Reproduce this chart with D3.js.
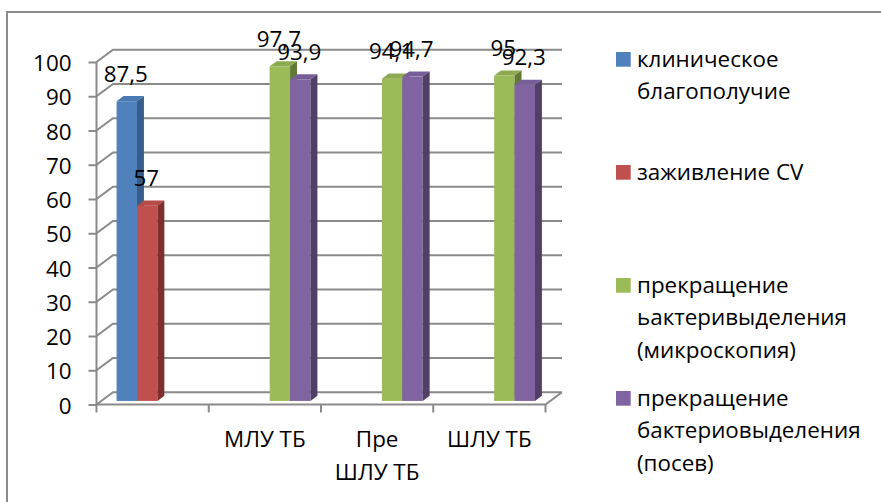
<!DOCTYPE html>
<html>
<head>
<meta charset="utf-8">
<script src="https://cdn.jsdelivr.net/npm/d3@7"></script>
<style>
  html, body { margin: 0; padding: 0; background: #fff; }
  svg { display: block; }
  text { font-family: "Open Sans", "Noto Sans", sans-serif; fill: #000; }
</style>
</head>
<body>
<svg id="chart" width="881" height="502"></svg>
<script>
// Categories along the floor of the 3-D clustered column chart
const categories = ["", "МЛУ ТБ", "Пре ШЛУ ТБ", "ШЛУ ТБ"];

// Series names (legend entries)
const seriesNames = [
  "клиническое благополучие",
  "заживление CV",
  "прекращение ьактеривыделения (микроскопия)",
  "прекращение бактериовыделения (посев)"
];

// Series values, one per category (null = no column)
const clinicalWellbeing = [87.5, null, null, null];
const cavityHealing     = [57, null, null, null];
const smearConversion   = [null, 97.7, 94.1, 95];
const cultureConversion = [null, 93.9, 94.7, 92.3];

// Value axis ticks
const yTicks = [0, 10, 20, 30, 40, 50, 60, 70, 80, 90, 100];

const seriesValues = [clinicalWellbeing, cavityHealing, smearConversion, cultureConversion];

// Office-style palette: front / top / side shades
const palette = [
  { front: "#4F81BD", top: "#4A7AB3", side: "#385D8A" },
  { front: "#C0504D", top: "#B64B48", side: "#7E2E2C" },
  { front: "#9BBB59", top: "#8DAA50", side: "#627A33" },
  { front: "#8064A2", top: "#785E98", side: "#513F68" }
];

const svg = d3.select("#chart");
const W = 881, H = 502;
const FONT = 22.4;

// Chart frame (only top and left edges fall inside the picture)
svg.append("rect")
  .attr("x", 7).attr("y", 12)
  .attr("width", W + 20).attr("height", H + 20)
  .attr("fill", "#fff")
  .attr("stroke", "#8a8a8a").attr("stroke-width", 2);

// Front plane of the plot box and the depth offset of the back wall
const x0 = 96.5, x1 = 545.5;
const DX = 16.5, DY = -12.3;

const x = d3.scaleBand().domain(d3.range(categories.length)).range([x0, x1]).paddingInner(0).paddingOuter(0);
const xs = d3.scaleBand().domain(d3.range(seriesValues.length)).range([0, x.bandwidth()]).paddingInner(0).paddingOuter(0.75);
const y = d3.scaleLinear().domain([0, 100]).range([404.5, 62]);

// projection of (screen x on front plane, value, depth 0..1)
const P = (px, v, z) => [px + z * DX, y(v) + z * DY];

const gridColor = "#8a8a8a";
const grid = svg.append("g").attr("fill", "none").attr("stroke", gridColor).attr("stroke-width", 2);

// Gridlines: across the side wall (diagonal) and back wall
yTicks.forEach(t => {
  const a = P(x0, t, 0), b = P(x0, t, 1), c = P(x1, t, 1);
  grid.append("path").attr("d", `M${a}L${b}L${c}`);
});

// Floor front edge and right edge
const f0 = P(x0, 0, 0), f1 = P(x1, 0, 0), f2 = P(x1, 0, 1);
grid.append("path").attr("d", `M${f0}L${f1}L${f2}`);

// Value axis line
grid.append("line").attr("x1", x0).attr("x2", x0).attr("y1", y(0)).attr("y2", y(100));

// Value axis ticks and labels
const yAxis = d3.axisLeft(y).tickValues(yTicks).tickSize(8).tickPadding(17).tickFormat(d3.format("d"));
const yg = svg.append("g").attr("transform", `translate(${x0},0)`).call(yAxis);
yg.select(".domain").remove();
yg.selectAll(".tick line").attr("stroke", gridColor).attr("stroke-width", 2);
yg.selectAll(".tick text")
  .attr("font-size", FONT).attr("dy", null).attr("y", 8.5)
  .style("font-family", "'Open Sans', sans-serif").attr("fill", "#000");

// Category tick marks at band boundaries
const bounds = d3.range(categories.length).map(i => x(i)).concat([x1]);
svg.append("g").selectAll("line").data(bounds).join("line")
  .attr("x1", d => d).attr("x2", d => d)
  .attr("y1", y(0)).attr("y2", y(0) + 8)
  .attr("stroke", gridColor).attr("stroke-width", 2);

// Word wrap helper
function wrapLines(str, maxW, size) {
  const probe = svg.append("text").attr("font-size", size).attr("visibility", "hidden");
  const words = str.split(" ").filter(w => w.length);
  const lines = [];
  let cur = "";
  words.forEach(w => {
    const test = cur ? cur + " " + w : w;
    probe.text(test);
    if (cur && probe.node().getComputedTextLength() > maxW) { lines.push(cur); cur = w; }
    else cur = test;
  });
  if (cur) lines.push(cur);
  probe.remove();
  return lines;
}

// Category labels (wrapped to 80% of the band width)
const catG = svg.append("g");
categories.forEach((c, i) => {
  const lines = wrapLines(c, x.bandwidth() * 0.8, FONT);
  const t = catG.append("text")
    .attr("x", x(i) + x.bandwidth() / 2)
    .attr("y", 446.5)
    .attr("text-anchor", "middle")
    .attr("font-size", FONT);
  lines.forEach((ln, k) => t.append("tspan").attr("x", x(i) + x.bandwidth() / 2).attr("dy", k ? 33.5 : 0).text(ln));
});

// Columns: front at depth zf, back at zb
const zf = 0.29, zb = 0.71;
const bars = [];
categories.forEach((c, ci) => {
  seriesValues.forEach((vals, si) => {
    if (vals[ci] != null) bars.push({ ci, si, v: vals[ci] });
  });
});
bars.sort((a, b) => (x(a.ci) + xs(a.si)) - (x(b.ci) + xs(b.si)));

const barG = svg.append("g");
const fmt = v => String(v).replace(".", ",");
bars.forEach(b => {
  const xl = x(b.ci) + xs(b.si), xr = xl + xs.bandwidth();
  const col = palette[b.si];
  const g = barG.append("g");
  const fl = P(xl, b.v, zf), fr0 = P(xr, 0, zf);
  g.append("rect")
    .attr("x", fl[0]).attr("y", fl[1])
    .attr("width", fr0[0] - fl[0]).attr("height", fr0[1] - fl[1])
    .attr("fill", col.front);
  const top = [P(xl, b.v, zf), P(xr, b.v, zf), P(xr, b.v, zb), P(xl, b.v, zb)];
  g.append("path").attr("d", "M" + top.join("L") + "Z").attr("fill", col.top);
  const side = [P(xr, b.v, zf), P(xr, b.v, zb), P(xr, 0, zb), P(xr, 0, zf)];
  g.append("path").attr("d", "M" + side.join("L") + "Z").attr("fill", col.side);
});

// Data labels
const labG = svg.append("g");
bars.forEach(b => {
  const xc = x(b.ci) + xs(b.si) + xs.bandwidth() / 2;
  const p = P(xc, b.v, zf);
  labG.append("text")
    .attr("x", p[0] - 1).attr("y", p[1] - 19.5)
    .attr("text-anchor", "middle")
    .attr("font-size", FONT)
    .text(fmt(b.v));
});

// Legend
const legX = 616, legTextX = 637, legY0 = 66.7, legStep = 113, legLine = 32.7;
const legG = svg.append("g");
seriesNames.forEach((name, i) => {
  const by = legY0 + i * legStep;
  legG.append("rect")
    .attr("x", legX).attr("y", by - 14.7)
    .attr("width", 14.7).attr("height", 14.7)
    .attr("fill", palette[i].front);
  const lines = wrapLines(name, W - legTextX - 6, FONT);
  const t = legG.append("text").attr("x", legTextX).attr("y", by).attr("font-size", FONT);
  lines.forEach((ln, k) => t.append("tspan").attr("x", legTextX).attr("dy", k ? legLine : 0).text(ln));
});
</script>
</body>
</html>
